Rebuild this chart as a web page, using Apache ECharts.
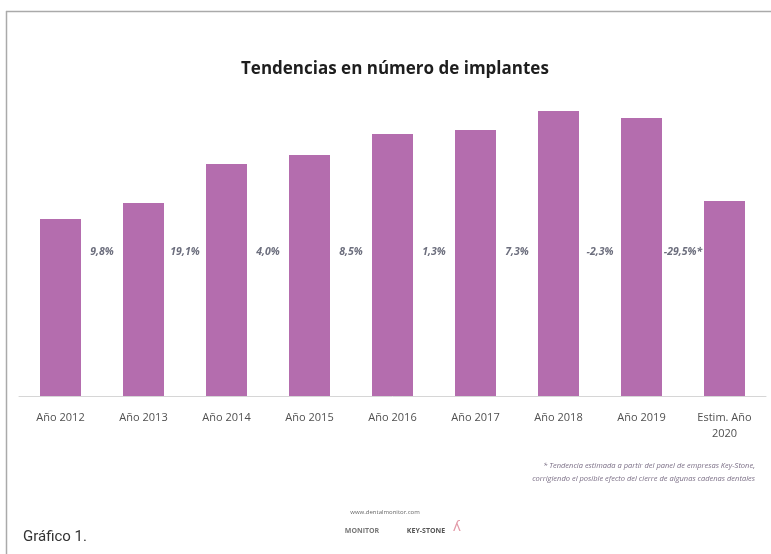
<!DOCTYPE html>
<html>
<head>
<meta charset="utf-8">
<script src="https://cdn.jsdelivr.net/npm/echarts@6/dist/echarts.min.js"></script>
<style>
html,body{margin:0;padding:0;background:#fff;}
#chart{width:771px;height:554px;}
</style>
</head>
<body>
<div id="chart"></div>
<script>
var categories = ['Año 2012','Año 2013','Año 2014','Año 2015','Año 2016','Año 2017','Año 2018','Año 2019','Estim. Año\n2020'];
var implantes = [177, 193, 232, 241, 262, 266, 285, 278, 195];
var variaciones = ['9,8%','19,1%','4,0%','8,5%','1,3%','7,3%','-2,3%','-29,5%*'];

var labelPoints = variaciones.map(function(v, i){ return {value:[i + 1, 144], name:v}; });

var chart = echarts.init(document.getElementById('chart'), null, {renderer:'canvas'});
chart.setOption({
  backgroundColor:'#ffffff',
  animation:false,
  title:{
    text:'Tendencias en número de implantes',
    left:236, top:56,
    textStyle:{fontFamily:'Open Sans', fontWeight:'bold', fontSize:17, color:'#1e1e1e'}
  },
  grid:{left:19, right:5, top:96, bottom:158, containLabel:false},
  xAxis:[{
    type:'category', data:categories,
    axisLine:{lineStyle:{color:'#d6d6d6', width:1}},
    axisTick:{show:false},
    axisLabel:{interval:0, margin:14, fontFamily:'Open Sans', fontSize:11, color:'#505050', lineHeight:16}
  },{
    type:'value', min:0, max:categories.length, show:false
  }],
  yAxis:{type:'value', min:0, max:300, show:false},
  series:[{
    type:'bar', data:implantes, barWidth:41, xAxisIndex:0,
    itemStyle:{color:'#b46dae'}
  },{
    type:'scatter', xAxisIndex:1, data:labelPoints, symbolSize:1,
    itemStyle:{color:'rgba(0,0,0,0)'},
    label:{show:true, position:'inside', formatter:function(p){return p.name;},
      fontFamily:'Open Sans', fontStyle:'italic', fontWeight:'bold', fontSize:10.5, color:'#474a5c'}
  }],
  graphic:[
    {type:'line', shape:{x1:6, y1:11.5, x2:771, y2:11.5}, style:{stroke:'#aaaaaa', lineWidth:1.5}},
    {type:'line', shape:{x1:6.5, y1:11, x2:6.5, y2:554}, style:{stroke:'#aaaaaa', lineWidth:1.5}},
    {type:'text', x:755, y:466, style:{text:'* Tendencia estimada a partir del panel de empresas Key-Stone,', textAlign:'right', textVerticalAlign:'middle', fontFamily:'Open Sans', fontStyle:'italic', fontSize:7.5, fill:'#7b6f86'}},
    {type:'text', x:755, y:479, style:{text:'corrigiendo el posible efecto del cierre de algunas cadenas dentales', textAlign:'right', textVerticalAlign:'middle', fontFamily:'Open Sans', fontStyle:'italic', fontSize:7.5, fill:'#7b6f86'}},
    {type:'text', x:385, y:512, style:{text:'www.dentalmonitor.com', textAlign:'center', textVerticalAlign:'middle', fontFamily:'Open Sans', fontSize:6, fill:'#666'}},
    {type:'text', x:362, y:531, style:{text:'MONITOR', textAlign:'center', textVerticalAlign:'middle', fontFamily:'Open Sans', fontWeight:'bold', fontSize:7, fill:'#777'}},
    {type:'text', x:426, y:531, style:{text:'KEY-STONE', textAlign:'center', textVerticalAlign:'middle', fontFamily:'Open Sans', fontWeight:'bold', fontSize:7, fill:'#555'}},
    {type:'text', x:457, y:527, style:{text:'ʎ', textAlign:'center', textVerticalAlign:'middle', fontFamily:'DejaVu Sans', fontSize:14, fill:'#e39aa8'}},
    {type:'text', x:23, y:537, style:{text:'Gráfico 1.', textAlign:'left', textVerticalAlign:'middle', fontFamily:'Roboto', fontSize:15, fill:'#333'}}
  ]
});
</script>
</body>
</html>
